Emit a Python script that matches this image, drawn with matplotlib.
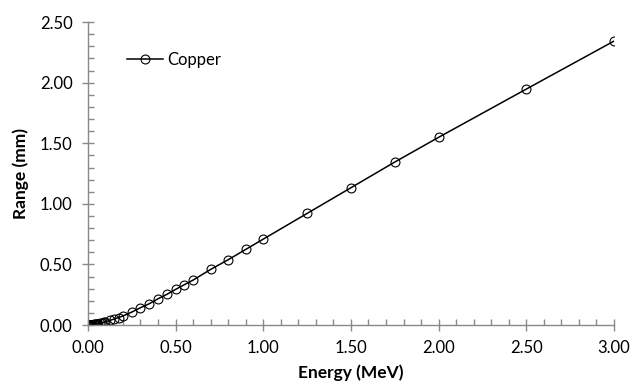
import numpy as np
import matplotlib.pyplot as plt
from matplotlib.ticker import MultipleLocator, FormatStrFormatter

plt.rcParams['font.family'] = ['Lato', 'DejaVu Sans']

# electron energy (MeV) and range in copper (mm)
energy = [0.001, 0.0015, 0.002, 0.003, 0.004, 0.005, 0.006, 0.008,
          0.01, 0.0125, 0.015, 0.0175, 0.02, 0.025, 0.03, 0.035, 0.04,
          0.045, 0.05, 0.055, 0.06, 0.07, 0.08, 0.09, 0.1, 0.125, 0.15,
          0.175, 0.2, 0.25, 0.3, 0.35, 0.4, 0.45, 0.5, 0.55, 0.6, 0.7,
          0.8, 0.9, 1.0, 1.25, 1.5, 1.75, 2.0, 2.5, 3.0]
range_mm = [0.00002, 0.00004, 0.00006, 0.0001, 0.00016, 0.00023, 0.0003, 0.0005,
            0.0007, 0.0010, 0.0013, 0.0017, 0.0021, 0.0030, 0.0041, 0.0053, 0.0066,
            0.0080, 0.0095, 0.011, 0.013, 0.016, 0.020, 0.024, 0.028, 0.038, 0.050,
            0.062, 0.075, 0.107, 0.143, 0.176, 0.217, 0.253, 0.294, 0.333, 0.371, 0.459,
            0.539, 0.624, 0.709, 0.921, 1.133, 1.345, 1.549, 1.947, 2.343]

grey = '#898989'

fig = plt.figure(figsize=(6.32, 3.87), dpi=100)
ax = fig.add_axes([0.139, 0.160, 0.8325, 0.783])

ax.plot(energy, range_mm, color='black', lw=1.1, marker='o', ms=6.4,
        mfc='none', mec='black', mew=0.8, label='Copper')

ax.set_xlim(0, 3.0)
ax.set_ylim(0, 2.5)
ax.xaxis.set_major_locator(MultipleLocator(0.5))
ax.xaxis.set_minor_locator(MultipleLocator(0.1))
ax.yaxis.set_major_locator(MultipleLocator(0.5))
ax.yaxis.set_minor_locator(MultipleLocator(0.1))
ax.xaxis.set_major_formatter(FormatStrFormatter('%.2f'))
ax.yaxis.set_major_formatter(FormatStrFormatter('%.2f'))

for s in ['top', 'right']:
    ax.spines[s].set_visible(False)
for s in ['left', 'bottom']:
    ax.spines[s].set_color(grey)
    ax.spines[s].set_linewidth(1.0)

ax.tick_params(which='major', direction='inout', length=8, width=1.0,
               color=grey, labelsize=12, labelcolor='black', pad=7)
ax.tick_params(which='minor', direction='in', length=4, width=1.0, color=grey)

ax.set_xlabel('Energy (MeV)', fontsize=12.5, fontweight='bold', labelpad=6)
ax.set_ylabel('Range (mm)', fontsize=12.5, fontweight='bold', labelpad=8)

ax.legend(loc='center left', bbox_to_anchor=(0.074, 0.875), frameon=False,
          borderpad=0, borderaxespad=0, handlelength=2.2, handletextpad=0.25,
          fontsize=12)

fig.savefig('out.png', dpi=100)
